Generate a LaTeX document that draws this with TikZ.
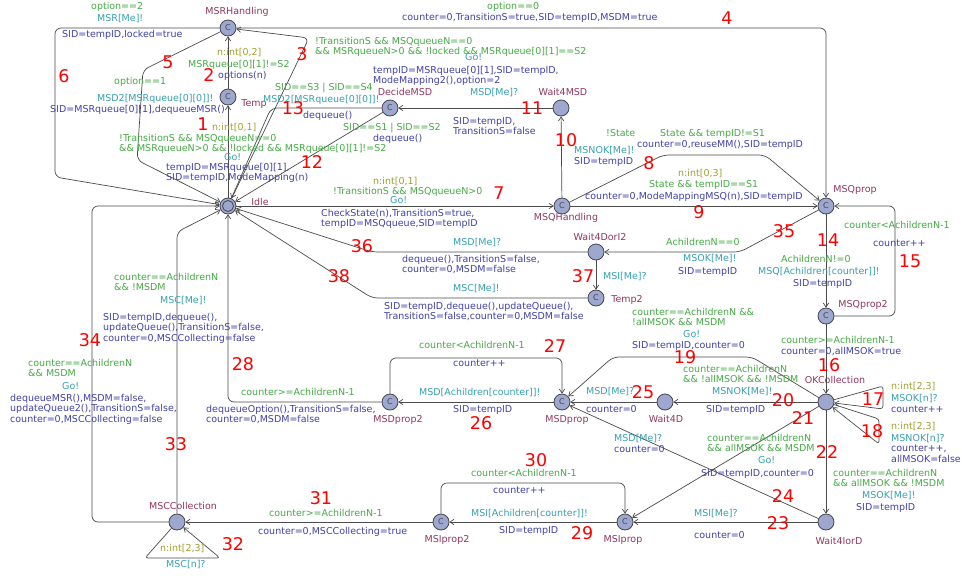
\documentclass[tikz,border=0pt]{standalone}
\usepackage{fontspec}
\setmainfont{DejaVu Sans}
\usetikzlibrary{arrows.meta}
\definecolor{locfill}{RGB}{158,168,206}
\definecolor{locline}{RGB}{70,70,80}
\definecolor{edgecol}{RGB}{75,75,75}
\definecolor{namecol}{RGB}{145,55,95}
\definecolor{selcol}{RGB}{160,160,45}
\definecolor{grdcol}{RGB}{70,170,70}
\definecolor{syncol}{RGB}{55,160,175}
\definecolor{updcol}{RGB}{65,65,170}
\begin{document}
\begin{tikzpicture}[x=1pt,y=-1pt,
  loc/.style={circle, draw=locline, fill=locfill, line width=0.8pt, minimum size=16pt, inner sep=0pt},
  com/.style={loc, font=\fontsize{8}{8}\selectfont, text=locline},
  edge/.style={draw=edgecol, line width=0.7pt, -{Straight Barb[length=4pt,width=5.5pt]}, rounded corners=6pt},
  loopedge/.style={edge, rounded corners=3pt},
  txt/.style={inner sep=0pt, anchor=north west, align=left, yshift=4pt,
    font=\fontsize{9.5}{10.4}\selectfont, execute at begin node={\rule{0pt}{7.5pt}}},
  sel/.style={txt, text=selcol},
  grd/.style={txt, text=grdcol},
  syn/.style={txt, text=syncol},
  upd/.style={txt, text=updcol},
  nm/.style={inner sep=0pt, font=\fontsize{9.5}{10.4}\selectfont, text=namecol},
  num/.style={inner sep=0pt, font=\fontsize{17.5}{18}\selectfont, text=red}
]
\fill[white] (0,0) rectangle (962,576);
\useasboundingbox (0,0) rectangle (962,576);

% locations
\node[com] (mrh) at (228,28) {C};
\node[com] (tmp) at (228,97) {C};
\node[loc] (idle) at (228,206) {};
\node[com] (dmsd) at (390,108) {C};
\node[loc] (w4msd) at (561,108) {};
\node[com] (mqh) at (562,206) {C};
\node[com] (mqp) at (826,206) {C};
\node[loc] (w4di2) at (596,252) {};
\node[com] (tmp2) at (596,298) {C};
\node[com] (mqp2) at (826,316) {C};
\node[loc] (okc) at (826,402) {};
\node[loc] (w4d) at (665,402) {};
\node[com] (mdp) at (562,402) {C};
\node[com] (mdp2) at (390,402) {C};
\node[loc] (w4iod) at (826,522) {};
\node[com] (msip) at (625,522) {C};
\node[com] (msip2) at (441,522) {C};
\node[loc] (mscc) at (177,522) {};
\draw[locline, line width=0.8pt] (idle.center) circle (5.5pt);

% location names
\node[nm] (n-mrh) at (237,12) {MSRHandling};
\node[nm] (n-tmp) at (254,104) {Temp};
\node[nm] (n-idle) at (260,202) {Idle};
\node[nm] (n-dmsd) at (405,92) {DecideMSD};
\node[nm] (n-w4msd) at (563,92) {Wait4MSD};
\node[nm] (n-mqh) at (566,218) {MSQHandling};
\node[nm] (n-mqp) at (855,190) {MSQprop};
\node[nm] (n-w4di2) at (600,237) {Wait4DorI2};
\node[nm] (n-tmp2) at (627,300) {Temp2};
\node[nm] (n-mqp2) at (863,305) {MSQprop2};
\node[nm] (n-okc) at (835,380) {OKCollection};
\node[nm] (n-w4d) at (666,419) {Wait4D};
\node[nm] (n-mdp) at (567,420) {MSDprop};
\node[nm] (n-mdp2) at (398,420) {MSDprop2};
\node[nm] (n-w4iod) at (839,541) {Wait4IorD};
\node[nm] (n-msip) at (623,540) {MSIprop};
\node[nm] (n-msip2) at (447,540) {MSIprop2};
\node[nm] (n-mscc) at (183,506) {MSCCollection};

% transitions
\draw[edge] (idle) -- (tmp);
\draw[edge] (tmp) -- (mrh);
\draw[edge] (idle) -- (309,38) -- (mrh);
\draw[edge] (mrh) -- (826,28) -- (mqp);
\draw[edge] (mrh) -- (143,70) -- (137,160) -- (idle);
\draw[edge] (mrh) -- (55,28) -- (55,177) -- (idle);
\draw[edge] (idle) -- (mqh);
\draw[edge] (mqh) -- (663,155) -- (765,155) -- (mqp);
\draw[edge] (mqh) -- (mqp);
\draw[edge] (mqh) -- (w4msd);
\draw[edge] (w4msd) -- (dmsd);
\draw[edge] (dmsd) -- (idle);
\draw[edge] (dmsd) -- (271,108) -- (idle);
\draw[edge] (mqp) -- (mqp2);
\draw[edge] (mqp2) -- (895,316) -- (895,206) -- (mqp);
\draw[edge] (mqp2) -- (okc);
\draw[loopedge] (okc) -- (883,386) -- (883,409) -- (okc);
\draw[loopedge] (okc) -- (879,419) -- (879,444) -- (okc);
\draw[edge] (okc) -- (752,357) -- (613,357) -- (mdp);
\draw[edge] (okc) -- (w4d);
\draw[edge] (okc) -- (msip);
\draw[edge] (okc) -- (w4iod);
\draw[edge] (w4iod) -- (msip);
\draw[edge] (w4iod) -- (mdp);
\draw[edge] (w4d) -- (mdp);
\draw[edge] (mdp) -- (mdp2);
\draw[edge] (mdp2) -- (390,358) -- (562,358) -- (mdp);
\draw[edge] (mdp2) -- (228,402) -- (idle);
\draw[edge] (msip) -- (msip2);
\draw[edge] (msip2) -- (441,483) -- (625,483) -- (msip);
\draw[edge] (msip2) -- (mscc);
\draw[loopedge] (mscc) -- (145,558) -- (220,558) -- (mscc);
\draw[edge] (mscc) -- (177,232) -- (idle);
\draw[edge] (mscc) -- (92,522) -- (92,206) -- (idle);
\draw[edge] (mqp) -- (740,252) -- (w4di2);
\draw[edge] (w4di2) -- (372,252) -- (idle);
\draw[edge] (w4di2) -- (tmp2);
\draw[edge] (tmp2) -- (372,298) -- (idle);

% transition labels
\node[sel] (e1s) at (212,127) {n:int[0,1]};
\node[grd] (e1g) at (119,138) {!TransitionS \&\& MSQqueueN==0\\\&\& MSRqueueN>0 \&\& !locked \&\& MSRqueue[0][1]!=S2};
\node[syn] (e1c) at (224,157) {Go!};
\node[upd] (e1u) at (166,167) {tempID=MSRqueue[0][1],\\SID=tempID,ModeMapping(n)};

\node[sel] (e2s) at (217,52) {n:int[0,2]};
\node[grd] (e2g) at (188,64) {MSRqueue[0][1]!=S2};
\node[upd] (e2u) at (218,75) {options(n)};

\node[grd] (e3g) at (315,41) {!TransitionS \&\& MSQqueueN==0\\\&\& MSRqueueN>0 \&\& !locked \&\& MSRqueue[0][1]==S2};
\node[syn] (e3c) at (465,57) {Go!};
\node[upd] (e3u) at (373,70) {tempID=MSRqueue[0][1],SID=tempID,\\ModeMapping2(),option=2};

\node[grd] (e4g) at (487,6) {option==0};
\node[upd] (e4u) at (402,17) {counter=0,TransitionS=true,SID=tempID,MSDM=true};

\node[grd] (e5g) at (114,81) {option==1};
\node[syn] (e5c) at (97,98) {MSD2[MSRqueue[0][0]]!};
\node[upd] (e5u) at (50,109) {SID=MSRqueue[0][1],dequeueMSR()};

\node[grd] (e6g) at (91,6) {option==2};
\node[syn] (e6c) at (97,18) {MSR[Me]!};
\node[upd] (e6u) at (62,34) {SID=tempID,locked=true};

\node[sel] (e7s) at (373,181) {n:int[0,1]};
\node[grd] (e7g) at (333,191) {!TransitionS \&\& MSQqueueN>0};
\node[syn] (e7c) at (390,200) {Go!};
\node[upd] (e7u) at (321,213) {CheckState(n),TransitionS=true,\\tempID=MSQqueue,SID=tempID};

\node[grd] (e8g) at (660,133) {State \&\& tempID!=S1};
\node[upd] (e8u) at (637,144) {counter=0,reuseMM(),SID=tempID};

\node[sel] (e9s) at (678,173) {n:int[0,3]};
\node[grd] (e9g) at (649,184) {State \&\& tempID==S1};
\node[upd] (e9u) at (585,196) {counter=0,ModeMappingMSQ(n),SID=tempID};

\node[grd] (e10g) at (606,133) {!State};
\node[syn] (e10c) at (574,150) {MSNOK[Me]!};
\node[upd] (e10u) at (574,161) {SID=tempID};

\node[syn] (e11c) at (470,92) {MSD[Me]?};
\node[upd] (e11u) at (453,121) {SID=tempID,\\TransitionS=false};

\node[grd] (e12g) at (343,127) {SID==S1 | SID==S2};
\node[upd] (e12u) at (373,138) {dequeue()};

\node[grd] (e13g) at (275,87) {SID==S3 | SID==S4};
\node[syn] (e13c) at (263,99) {MSD2[MSRqueue[0][0]]!};
\node[upd] (e13u) at (303,115) {dequeue()};

\node[grd] (e14g) at (781,259) {AchildrenN!=0};
\node[syn] (e14c) at (758,271) {MSQ[Achildren[counter]]!};
\node[upd] (e14u) at (793,283) {SID=tempID};

\node[grd] (e15g) at (844,225) {counter<AchildrenN-1};
\node[upd] (e15u) at (873,243) {counter++};

\node[grd] (e16g) at (781,340) {counter>=AchildrenN-1};
\node[upd] (e16u) at (781,351) {counter=0,allMSOK=true};

\node[sel] (e17s) at (891,386) {n:int[2,3]};
\node[syn] (e17c) at (891,398) {MSOK[n]?};
\node[upd] (e17u) at (891,409) {counter++};

\node[sel] (e18s) at (891,426) {n:int[2,3]};
\node[syn] (e18c) at (891,438) {MSNOK[n]?};
\node[upd] (e18u) at (891,449) {counter++,\\allMSOK=false};

\node[grd] (e19g) at (632,312) {counter==AchildrenN \&\&\\!allMSOK \&\& MSDM};
\node[syn] (e19c) at (683,334) {Go!};
\node[upd] (e19u) at (632,345) {SID=tempID,counter=0};

\node[grd] (e20g) at (683,369) {counter==AchildrenN\\\&\& !allMSOK \&\& !MSDM};
\node[syn] (e20c) at (712,391) {MSNOK[Me]!};
\node[upd] (e20u) at (706,409) {SID=tempID};

\node[grd] (e21g) at (707,438) {counter==AchildrenN\\\&\& allMSOK \&\& MSDM};
\node[syn] (e21c) at (758,460) {Go!};
\node[upd] (e21u) at (701,473) {SID=tempID,counter=0};

\node[grd] (e22g) at (833,473) {counter==AchildrenN\\\&\& allMSOK \&\& !MSDM};
\node[syn] (e22c) at (862,495) {MSOK[Me]!};
\node[upd] (e22u) at (856,507) {SID=tempID};

\node[syn] (e23c) at (694,513) {MSI[Me]?};
\node[upd] (e23u) at (694,535) {counter=0};

\node[syn] (e24c) at (614,438) {MSD[Me]?};
\node[upd] (e24u) at (614,449) {counter=0};

\node[syn] (e25c) at (586,391) {MSD[Me]?};
\node[upd] (e25u) at (586,409) {counter=0};

\node[syn] (e26c) at (419,392) {MSD[Achildren[counter]]!};
\node[upd] (e26u) at (453,409) {SID=tempID};

\node[grd] (e27g) at (419,345) {counter<AchildrenN-1};
\node[upd] (e27u) at (453,363) {counter++};

\node[grd] (e28g) at (241,392) {counter>=AchildrenN-1};
\node[upd] (e28u) at (206,409) {dequeueOption(),TransitionS=false,\\counter=0,MSDM=false};

\node[syn] (e29c) at (471,513) {MSI[Achildren[counter]]!};
\node[upd] (e29u) at (499,530) {SID=tempID};

\node[grd] (e30g) at (471,473) {counter<AchildrenN-1};
\node[upd] (e30u) at (493,490) {counter++};

\node[grd] (e31g) at (269,513) {counter>=AchildrenN-1};
\node[upd] (e31u) at (258,531) {counter=0,MSCCollecting=true};

\node[sel] (e32s) at (160,548) {n:int[2,3]};
\node[syn] (e32c) at (166,564) {MSC[n]?};

\node[grd] (e33g) at (114,277) {counter==AchildrenN\\\&\& !MSDM};
\node[syn] (e33c) at (160,300) {MSC[Me]!};
\node[upd] (e33u) at (103,317) {SID=tempID,dequeue(),\\updateQueue(),TransitionS=false,\\counter=0,MSCCollecting=false};

\node[grd] (e34g) at (28,363) {counter==AchildrenN\\\&\& MSDM};
\node[syn] (e34c) at (62,386) {Go!};
\node[upd] (e34u) at (10,398) {dequeueMSR(),MSDM=false,\\updateQueue2(),TransitionS=false,\\counter=0,MSCCollecting=false};

\node[grd] (e35g) at (666,242) {AchildrenN==0};
\node[syn] (e35c) at (683,258) {MSOK[Me]!};
\node[upd] (e35u) at (678,271) {SID=tempID};

\node[syn] (e36c) at (453,242) {MSD[Me]?};
\node[upd] (e36u) at (402,259) {dequeue(),TransitionS=false,\\counter=0,MSDM=false};

\node[syn] (e37c) at (603,276) {MSI[Me]?};

\node[syn] (e38c) at (453,288) {MSC[Me]!};
\node[upd] (e38u) at (384,306) {SID=tempID,dequeue(),updateQueue(),\\TransitionS=false,counter=0,MSDM=false};

% transition numbers
\foreach \k/\x/\y in {1/203/124, 2/209/75, 3/302/54, 4/727/18, 5/168/62, 6/64/76,
  7/499/193, 8/649/163, 9/699/212, 10/566/140, 11/532/108, 12/312/162,
  13/293/108, 14/828/240, 15/910/261, 16/829/365, 17/873/399, 18/872/431,
  19/685/357, 20/783/400, 21/803/418, 22/827/452, 23/778/523, 24/783/496,
  25/643/392, 26/481/423, 27/555/346, 28/243/364, 29/582/533, 30/536/460,
  31/321/498, 32/233/544, 33/176/444, 34/90/340, 35/784/231, 36/362/246,
  37/583/276, 38/339/276}
  \node[num] (k\k) at (\x,\y) {\k};
\end{tikzpicture}
\end{document}
